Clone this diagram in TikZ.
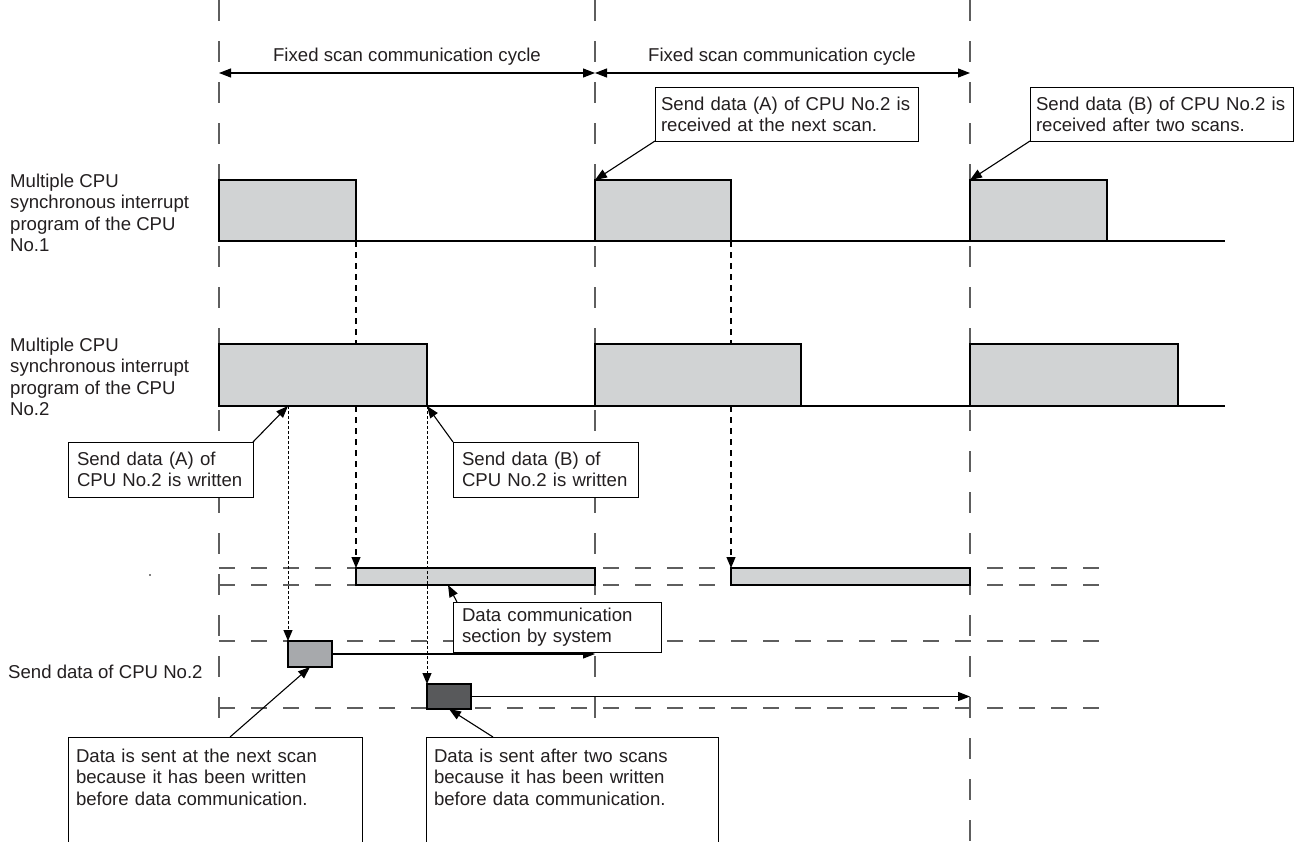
\documentclass[tikz,border=0pt]{standalone}
\usepackage{fontspec}
\setmainfont{Liberation Sans}
\usetikzlibrary{arrows.meta, positioning, calc}
\definecolor{boxgray}{HTML}{D1D3D4}
\definecolor{midgray}{HTML}{A7A9AC}
\definecolor{darkbox}{HTML}{58595B}
\definecolor{guidegray}{HTML}{5E5E5E}
\definecolor{inktext}{HTML}{231F20}

\begin{document}
\begin{tikzpicture}[x=1pt, y=-1pt,
    font=\fontsize{18.6}{21.3}\selectfont, text=inktext,
    guide/.style={guidegray, line width=1.3pt, dash pattern=on 21pt off 20pt},
    hguide/.style={guidegray, line width=1.3pt, dash pattern=on 16pt off 16pt},
    link/.style={line width=1.1pt, dash pattern=on 6pt off 5pt, -{Triangle[length=11pt, width=9pt]}},
    dotlink/.style={line width=1pt, dash pattern=on 2.5pt off 2.5pt, -{Triangle[length=11pt, width=9pt]}},
    ptr/.style={line width=1.1pt, -{Triangle[length=12pt, width=9pt]}},
    cyc/.style={line width=1.1pt, {Triangle[length=12pt, width=9pt]}-{Triangle[length=12pt, width=9pt]}},
    proc/.style={draw, fill=boxgray, line width=2pt, anchor=south west, inner sep=0pt, outer sep=0pt},
    sect/.style={proc, line width=1.6pt, minimum height=17pt},
    callout/.style={draw, line width=1pt, fill=white, align=left, anchor=north west,
        inner xsep=9pt, inner ysep=0pt, outer sep=0pt},
    note/.style={callout, inner xsep=8pt, inner ysep=12pt, text depth=120pt},
    rowname/.style={align=left, anchor=north west, inner sep=0pt}]

    \useasboundingbox (0,0) rectangle (1308,841);
    \clip (0,0) rectangle (1308,841);

    % scan guides
    \foreach \gx in {219,595,970}
        \draw[guide] (\gx,0) -- (\gx,841);
    \foreach \gy in {568,585,641,708}
        \draw[hguide] (219,\gy) -- (1108,\gy);
    \fill (150,575) circle (0.8pt);

    % cycles
    \coordinate (t1) at (219,73);
    \coordinate (t2) at (595,73);
    \coordinate (t3) at (970,73);
    \draw[cyc] (t1) -- (t2);
    \draw[cyc] (t2) -- (t3);
    \node[anchor=base] (cyc1) at (407,61) {Fixed scan communication cycle};
    \node[anchor=base] (cyc2) at (782,61) {Fixed scan communication cycle};

    % row names
    \node[rowname] (cpu1) at (10,174) {Multiple CPU\\synchronous interrupt\\program of the CPU\\No.1};
    \node[rowname] (cpu2) at (10,338) {Multiple CPU\\synchronous interrupt\\program of the CPU\\No.2};
    \node[anchor=west, inner sep=0pt] (snd) at (8,672) {Send data of CPU No.2};

    \draw[line width=1.2pt] (219,241) -- (1225,241);
    \draw[line width=1.2pt] (219,406) -- (1225,406);

    % CPU No.1
    \node[proc, minimum width=137pt, minimum height=61pt] (c1a) at (219,241) {};
    \node[proc, minimum width=136pt, minimum height=61pt] (c1b) at (595,241) {};
    \node[proc, minimum width=137pt, minimum height=61pt] (c1c) at (970,241) {};

    % data communication
    \node[sect, minimum width=239pt] (d1) at (356,585) {};
    \node[sect, minimum width=239pt] (d2) at (731,585) {};
    \draw[link] (c1a.south east) -- (d1.north west);
    \draw[link] (c1b.south east) -- (d2.north west);

    % CPU No.2
    \node[proc, minimum width=208pt, minimum height=62pt] (c2a) at (219,406) {};
    \node[proc, minimum width=206pt, minimum height=62pt] (c2b) at (595,406) {};
    \node[proc, minimum width=208pt, minimum height=62pt] (c2c) at (970,406) {};

    % send data
    \node[proc, fill=midgray, minimum width=44pt, minimum height=26pt] (sA) at (288,667) {};
    \node[proc, fill=darkbox, minimum width=44pt, minimum height=25pt] (sB) at (427,709) {};
    \coordinate (wA) at (288,406);
    \draw[dotlink] (wA) -- (sA.north west);
    \draw[dotlink] (c2a.south east) -- (sB.north west);
    \coordinate (eA) at (595,654);
    \coordinate (eB) at (970,696.5);
    \draw[ptr] (sA.east) -- (eA);
    \draw[ptr] (sB.east) -- (eB);

    % callouts
    \node[callout, inner xsep=6pt, text width=251pt, minimum height=54pt] (rxA) at (655,87)
        {Send data (A) of CPU No.2 is\\received at the next scan.};
    \node[callout, inner xsep=6pt, text width=251pt, minimum height=54pt] (rxB) at (1030,87)
        {Send data (B) of CPU No.2 is\\received after two scans.};
    \draw[ptr] (rxA.south west) -- (c1b.north west);
    \draw[ptr] (rxB.south west) -- (c1c.north west);

    \node[callout, text width=167pt, minimum height=55pt] (wrA) at (68,442)
        {Send data (A) of\\CPU No.2 is written};
    \node[callout, text width=167pt, minimum height=55pt] (wrB) at (453,442)
        {Send data (B) of\\CPU No.2 is written};
    \draw[ptr] (wrA.north east) -- (wA);
    \draw[ptr] (wrB.north west) -- (c2a.south east);

    \node[callout, text width=190pt, minimum height=50pt] (dc) at (453,602)
        {Data communication\\section by system};
    \coordinate (dcTip) at (448,585);
    \draw[ptr] ($(dc.north west)+(4,0)$) -- (dcTip);

    \node[note, text width=278pt] (nxA) at (68,737)
        {Data is sent at the next scan\\because it has been written\\before data communication.};
    \node[note, text width=276pt] (nxB) at (426,737)
        {Data is sent after two scans\\because it has been written\\before data communication.};
    \draw[ptr] ($(nxA.north west)+(162,0)$) -- (sA.south);
    \draw[ptr] ($(nxB.north west)+(67,0)$) -- (sB.south);
\end{tikzpicture}
\end{document}
